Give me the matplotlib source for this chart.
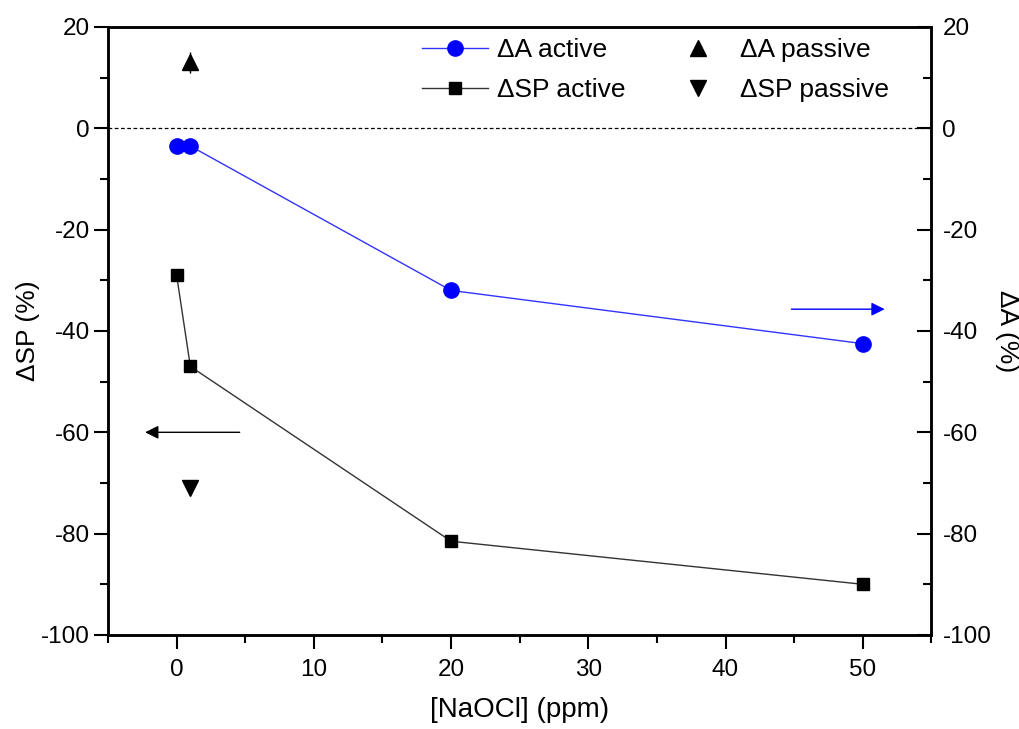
import numpy as np
import matplotlib
matplotlib.use("Agg")
import matplotlib.pyplot as plt
from matplotlib.ticker import MultipleLocator

plt.rcParams['font.family'] = ['Liberation Sans', 'DejaVu Sans']
plt.rcParams['axes.unicode_minus'] = False

# data
conc_active = [0, 1, 20, 50]
dA_active = [-3.5, -3.5, -32.0, -42.5]
dSP_active = [-29.0, -47.0, -81.5, -90.0]
conc_passive = [1]
dA_passive = [13.0]
dA_passive_err = [2.0]
dSP_passive = [-71.0]

fig = plt.figure(figsize=(10.19, 7.29), dpi=100)
ax = fig.add_axes([0.106, 0.129, 0.808, 0.834])
ax2 = ax.twinx()

ax.set_xlim(-5, 55)
ax.set_ylim(-100, 20)
ax2.set_ylim(-100, 20)

ax.axhline(0, color='black', lw=0.9, ls=(0, (3, 2)), zorder=1)

l_sp, = ax.plot(conc_active, dSP_active, color='#333333', lw=1.0,
                marker='s', ms=9, mfc='black', mec='black', zorder=3)
l_sp_p, = ax.plot(conc_passive, dSP_passive, ls='none', marker='v', ms=12,
                  color='black', zorder=3)
l_a, = ax2.plot(conc_active, dA_active, color='#3333ff', lw=1.0,
                marker='o', ms=11, mfc='#0000ff', mec='#0000ff', zorder=3)
ax2.errorbar(conc_passive, dA_passive, yerr=dA_passive_err, fmt='none',
             ecolor='black', elinewidth=1, capsize=0)
l_a_p, = ax2.plot(conc_passive, dA_passive, ls='none', marker='^', ms=12,
                  color='black', zorder=3)

# direction arrows
ax.annotate('', xy=(-2.5, -60), xytext=(4.8, -60),
            arrowprops=dict(arrowstyle='-|>', color='black', lw=1.0,
                            mutation_scale=20))
ax2.annotate('', xy=(51.8, -35.7), xytext=(44.6, -35.7),
             arrowprops=dict(arrowstyle='-|>', color='#0000ff', lw=1.0,
                             mutation_scale=20))

ax.xaxis.set_major_locator(MultipleLocator(10))
ax.xaxis.set_minor_locator(MultipleLocator(5))
ax.yaxis.set_major_locator(MultipleLocator(20))
ax.yaxis.set_minor_locator(MultipleLocator(10))
ax2.yaxis.set_major_locator(MultipleLocator(20))
ax2.yaxis.set_minor_locator(MultipleLocator(10))

ax.tick_params(axis='both', which='major', direction='out', length=10,
               width=1.5, labelsize=17.5, pad=3, top=False)
ax.tick_params(axis='x', which='major', pad=7)
ax.tick_params(axis='both', which='minor', direction='out', length=6,
               width=1.5, top=False)
ax2.tick_params(axis='y', which='major', direction='in', length=10,
                width=1.5, labelsize=17.5, pad=8)
ax2.tick_params(axis='y', which='minor', direction='in', length=6, width=1.5)

for a in (ax, ax2):
    for s in a.spines.values():
        s.set_linewidth(1.8)

ax.set_xlabel('[NaOCl] (ppm)', fontsize=20, labelpad=12)
ax.set_ylabel('ΔSP (%)', fontsize=19, labelpad=1)
ax2.set_ylabel('ΔA (%)', fontsize=19, rotation=-90, labelpad=20)

leg = ax.legend([l_a, l_sp, l_a_p, l_sp_p],
                ['ΔA active', 'ΔSP active', 'ΔA passive', 'ΔSP passive'],
                ncol=2, loc='upper left', bbox_to_anchor=(0.381, 0.982),
                borderaxespad=0, borderpad=0,
                frameon=False, fontsize=19, handlelength=2.5,
                columnspacing=1.5, labelspacing=0.62, handletextpad=0.35)

fig.savefig('out.png', dpi=100)
